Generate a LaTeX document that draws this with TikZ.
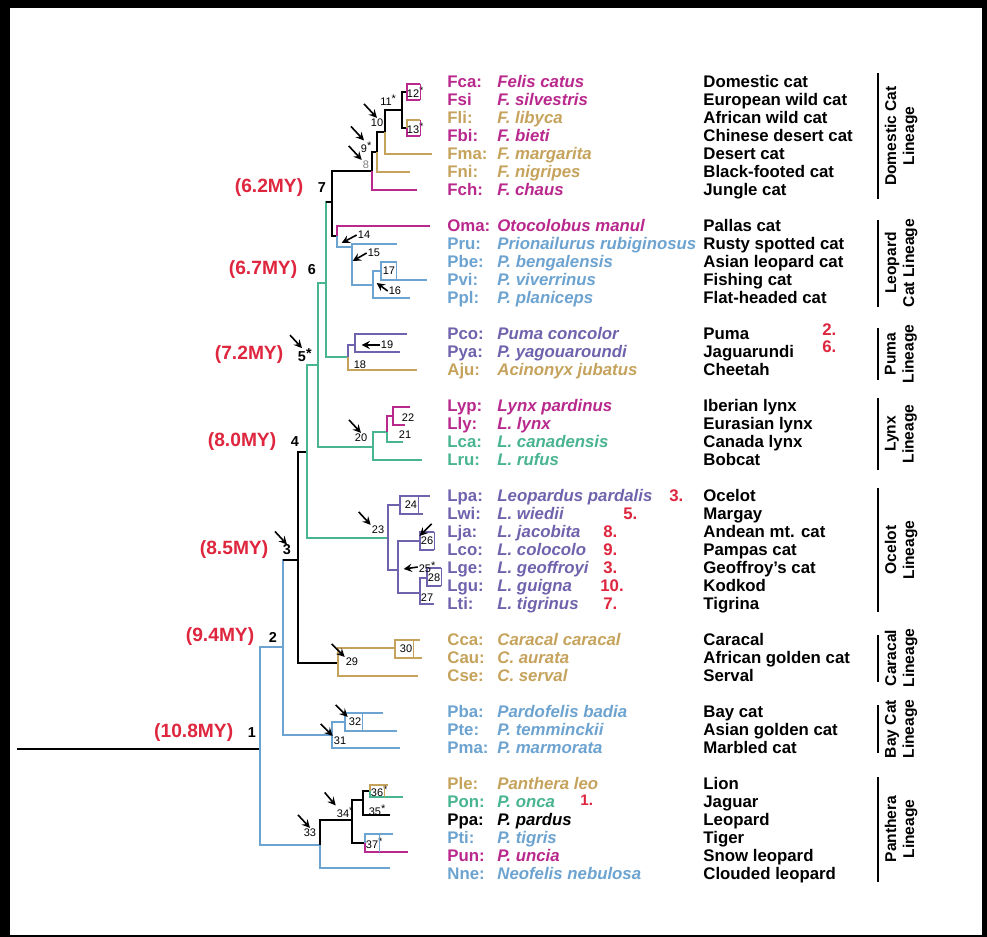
\documentclass[tikz,border=0pt]{standalone}
\usepackage{fontspec}
\setmainfont{Liberation Sans}
\usetikzlibrary{arrows,positioning}
\definecolor{catmagenta}{RGB}{185,40,140}
\definecolor{cattan}{RGB}{198,163,92}
\definecolor{catblue}{RGB}{108,163,208}
\definecolor{catpurple}{RGB}{112,98,172}
\definecolor{catgreen}{RGB}{72,180,145}
\definecolor{agered}{RGB}{222,38,62}

\begin{document}
\begin{tikzpicture}[
        x=0.5pt, y=-0.5pt,
        br/.style={line width=1pt},
        boxedge/.style={line width=0.5pt},
        ab/.style={anchor=west, inner sep=0pt, text height=5pt, text depth=0pt, font=\fontsize{8.4}{9}\selectfont\bfseries},
        sp/.style={ab, font=\fontsize{8.4}{9}\selectfont\bfseries\itshape},
        cn/.style={ab},
        note/.style={ab, text=agered},
        age/.style={inner sep=0pt, text=agered, font=\fontsize{9.6}{10}\selectfont\bfseries},
        knot/.style={inner sep=0pt, font=\fontsize{7.2}{8}\selectfont\bfseries},
        num/.style={inner sep=0.4pt, font=\fontsize{5.5}{6}\selectfont},
        lin/.style={rotate=90, inner sep=0pt, align=center, font=\fontsize{7.8}{9}\selectfont\bfseries},
        bar/.style={line width=0.8pt},
        ptr/.style={->, >=stealth, thick}
    ]
        % frame
        \fill[black] (0,0) rectangle (987,937);
        \fill[white] (10,8) rectangle (982,935);

        % Domestic cat lineage
        \node[ab, catmagenta] (fca-ab) at (447,82) {Fca:}; \node[sp, catmagenta] (fca-sp) at (497,82) {Felis catus}; \node[cn] (fca-cn) at (703,82) {Domestic cat};
        \node[ab, catmagenta] (fsi-ab) at (447,100) {Fsi}; \node[sp, catmagenta] (fsi-sp) at (497,100) {F. silvestris}; \node[cn] (fsi-cn) at (703,100) {European wild cat};
        \node[ab, cattan] (fli-ab) at (447,118) {Fli:}; \node[sp, cattan] (fli-sp) at (497,118) {F. libyca}; \node[cn] (fli-cn) at (703,118) {African wild cat};
        \node[ab, catmagenta] (fbi-ab) at (447,136) {Fbi:}; \node[sp, catmagenta] (fbi-sp) at (497,136) {F. bieti}; \node[cn] (fbi-cn) at (703,136) {Chinese desert cat};
        \node[ab, cattan] (fma-ab) at (447,154) {Fma:}; \node[sp, cattan] (fma-sp) at (497,154) {F. margarita}; \node[cn] (fma-cn) at (703,154) {Desert cat};
        \node[ab, cattan] (fni-ab) at (447,172) {Fni:}; \node[sp, cattan] (fni-sp) at (497,172) {F. nigripes}; \node[cn] (fni-cn) at (703,172) {Black-footed cat};
        \node[ab, catmagenta] (fch-ab) at (447,190) {Fch:}; \node[sp, catmagenta] (fch-sp) at (497,190) {F. chaus}; \node[cn] (fch-cn) at (703,190) {Jungle cat};

        % Leopard cat lineage
        \node[ab, catmagenta] (oma-ab) at (447,226) {Oma:}; \node[sp, catmagenta] (oma-sp) at (497,226) {Otocolobus manul}; \node[cn] (oma-cn) at (703,226) {Pallas cat};
        \node[ab, catblue] (pru-ab) at (447,244) {Pru:}; \node[sp, catblue] (pru-sp) at (497,244) {Prionailurus rubiginosus}; \node[cn] (pru-cn) at (703,244) {Rusty spotted cat};
        \node[ab, catblue] (pbe-ab) at (447,262) {Pbe:}; \node[sp, catblue] (pbe-sp) at (497,262) {P. bengalensis}; \node[cn] (pbe-cn) at (703,262) {Asian leopard cat};
        \node[ab, catblue] (pvi-ab) at (447,280) {Pvi:}; \node[sp, catblue] (pvi-sp) at (497,280) {P. viverrinus}; \node[cn] (pvi-cn) at (703,280) {Fishing cat};
        \node[ab, catblue] (ppl-ab) at (447,298) {Ppl:}; \node[sp, catblue] (ppl-sp) at (497,298) {P. planiceps}; \node[cn] (ppl-cn) at (703,298) {Flat-headed cat};

        % Puma lineage
        \node[ab, catpurple] (pco-ab) at (447,334) {Pco:}; \node[sp, catpurple] (pco-sp) at (497,334) {Puma concolor}; \node[cn] (pco-cn) at (703,334) {Puma};
        \node[ab, catpurple] (pya-ab) at (447,352) {Pya:}; \node[sp, catpurple] (pya-sp) at (497,352) {P. yagouaroundi}; \node[cn] (pya-cn) at (703,352) {Jaguarundi};
        \node[ab, cattan] (aju-ab) at (447,370) {Aju:}; \node[sp, cattan] (aju-sp) at (497,370) {Acinonyx jubatus}; \node[cn] (aju-cn) at (703,370) {Cheetah};

        % Lynx lineage
        \node[ab, catmagenta] (lyp-ab) at (447,406) {Lyp:}; \node[sp, catmagenta] (lyp-sp) at (497,406) {Lynx pardinus}; \node[cn] (lyp-cn) at (703,406) {Iberian lynx};
        \node[ab, catmagenta] (lly-ab) at (447,424) {Lly:}; \node[sp, catmagenta] (lly-sp) at (497,424) {L. lynx}; \node[cn] (lly-cn) at (703,424) {Eurasian lynx};
        \node[ab, catgreen] (lca-ab) at (447,442) {Lca:}; \node[sp, catgreen] (lca-sp) at (497,442) {L. canadensis}; \node[cn] (lca-cn) at (703,442) {Canada lynx};
        \node[ab, catgreen] (lru-ab) at (447,460) {Lru:}; \node[sp, catgreen] (lru-sp) at (497,460) {L. rufus}; \node[cn] (lru-cn) at (703,460) {Bobcat};

        % Ocelot lineage
        \node[ab, catpurple] (lpa-ab) at (447,496) {Lpa:}; \node[sp, catpurple] (lpa-sp) at (497,496) {Leopardus pardalis}; \node[cn] (lpa-cn) at (703,496) {Ocelot};
        \node[ab, catpurple] (lwi-ab) at (447,514) {Lwi:}; \node[sp, catpurple] (lwi-sp) at (497,514) {L. wiedii}; \node[cn] (lwi-cn) at (703,514) {Margay};
        \node[ab, catpurple] (lja-ab) at (447,532) {Lja:}; \node[sp, catpurple] (lja-sp) at (497,532) {L. jacobita}; \node[cn] (lja-cn) at (703,532) {Andean mt. cat};
        \node[ab, catpurple] (lco-ab) at (447,550) {Lco:}; \node[sp, catpurple] (lco-sp) at (497,550) {L. colocolo}; \node[cn] (lco-cn) at (703,550) {Pampas cat};
        \node[ab, catpurple] (lge-ab) at (447,568) {Lge:}; \node[sp, catpurple] (lge-sp) at (497,568) {L. geoffroyi}; \node[cn] (lge-cn) at (703,568) {Geoffroy's cat};
        \node[ab, catpurple] (lgu-ab) at (447,586) {Lgu:}; \node[sp, catpurple] (lgu-sp) at (497,586) {L. guigna}; \node[cn] (lgu-cn) at (703,586) {Kodkod};
        \node[ab, catpurple] (lti-ab) at (447,604) {Lti:}; \node[sp, catpurple] (lti-sp) at (497,604) {L. tigrinus}; \node[cn] (lti-cn) at (703,604) {Tigrina};

        % Caracal lineage
        \node[ab, cattan] (cca-ab) at (447,640) {Cca:}; \node[sp, cattan] (cca-sp) at (497,640) {Caracal caracal}; \node[cn] (cca-cn) at (703,640) {Caracal};
        \node[ab, cattan] (cau-ab) at (447,658) {Cau:}; \node[sp, cattan] (cau-sp) at (497,658) {C. aurata}; \node[cn] (cau-cn) at (703,658) {African golden cat};
        \node[ab, cattan] (cse-ab) at (447,676) {Cse:}; \node[sp, cattan] (cse-sp) at (497,676) {C. serval}; \node[cn] (cse-cn) at (703,676) {Serval};

        % Bay cat lineage
        \node[ab, catblue] (pba-ab) at (447,712) {Pba:}; \node[sp, catblue] (pba-sp) at (497,712) {Pardofelis badia}; \node[cn] (pba-cn) at (703,712) {Bay cat};
        \node[ab, catblue] (pte-ab) at (447,730) {Pte:}; \node[sp, catblue] (pte-sp) at (497,730) {P. temminckii}; \node[cn] (pte-cn) at (703,730) {Asian golden cat};
        \node[ab, catblue] (pma-ab) at (447,748) {Pma:}; \node[sp, catblue] (pma-sp) at (497,748) {P. marmorata}; \node[cn] (pma-cn) at (703,748) {Marbled cat};

        % Panthera lineage
        \node[ab, cattan] (ple-ab) at (447,784) {Ple:}; \node[sp, cattan] (ple-sp) at (497,784) {Panthera leo}; \node[cn] (ple-cn) at (703,784) {Lion};
        \node[ab, catgreen] (pon-ab) at (447,802) {Pon:}; \node[sp, catgreen] (pon-sp) at (497,802) {P. onca}; \node[cn] (pon-cn) at (703,802) {Jaguar};
        \node[ab] (ppa-ab) at (447,820) {Ppa:}; \node[sp] (ppa-sp) at (497,820) {P. pardus}; \node[cn] (ppa-cn) at (703,820) {Leopard};
        \node[ab, catblue] (pti-ab) at (447,838) {Pti:}; \node[sp, catblue] (pti-sp) at (497,838) {P. tigris}; \node[cn] (pti-cn) at (703,838) {Tiger};
        \node[ab, catmagenta] (pun-ab) at (447,856) {Pun:}; \node[sp, catmagenta] (pun-sp) at (497,856) {P. uncia}; \node[cn] (pun-cn) at (703,856) {Snow leopard};
        \node[ab, catblue] (nne-ab) at (447,874) {Nne:}; \node[sp, catblue] (nne-sp) at (497,874) {Neofelis nebulosa}; \node[cn] (nne-cn) at (703,874) {Clouded leopard};

        % red notes
        \node[note] (note-lpa) at (669,496) {3.};
        \node[note] (note-lwi) at (623,514) {5.};
        \node[note] (note-lja) at (603,532) {8.};
        \node[note] (note-lco) at (603,550) {9.};
        \node[note] (note-lge) at (603,568) {3.};
        \node[note] (note-lgu) at (600,586) {10.};
        \node[note] (note-lti) at (603,604) {7.};
        \node[note] (note-pco) at (822,330) {2.};
        \node[note] (note-pya) at (822,347) {6.};
        \node[note, font=\fontsize{7.6}{8}\selectfont\bfseries] (note-pon) at (580,800) {1.};

        % tree junctions
        \coordinate (root) at (17,749);
        \coordinate (n1) at (260,749);
        \coordinate (n2) at (283,647);
        \coordinate (n3) at (298,560);
        \coordinate (n4) at (307,452);
        \coordinate (n5) at (318,365);
        \coordinate (n6) at (326,283);
        \coordinate (n7) at (332,202);
        \coordinate (n8) at (372,171);
        \coordinate (n9) at (377,152);
        \coordinate (n10) at (385,132);
        \coordinate (n11) at (402,110);
        \coordinate (n12) at (407,92);
        \coordinate (n13) at (407,128);
        \coordinate (n14) at (337,236);
        \coordinate (n15) at (352,247);
        \coordinate (n16) at (373,285);
        \coordinate (n17) at (381,271);
        \coordinate (n18) at (348,357);
        \coordinate (n19) at (355,345);
        \coordinate (n20) at (373,447);
        \coordinate (n21) at (387,432);
        \coordinate (n22) at (393,416);
        \coordinate (n23) at (388,538);
        \coordinate (n24) at (400,505);
        \coordinate (n25) at (398,570);
        \coordinate (n26) at (420,541);
        \coordinate (n27) at (420,593);
        \coordinate (n28) at (427,578);
        \coordinate (n29) at (338,663);
        \coordinate (n30) at (395,648);
        \coordinate (n31) at (332,735);
        \coordinate (n32) at (345,722);
        \coordinate (n33) at (320,845);
        \coordinate (n34) at (352,820);
        \coordinate (n35) at (363,800);
        \coordinate (n36) at (370,791);
        \coordinate (n37) at (365,843);

        % branch tips
        \coordinate (fca) at (420,84); \coordinate (fsi) at (420,100); \coordinate (fli) at (420,120); \coordinate (fbi) at (420,136);
        \coordinate (fma) at (432,154); \coordinate (fni) at (410,172); \coordinate (fch) at (417,190);
        \coordinate (oma) at (430,226); \coordinate (pru) at (397,244); \coordinate (pbe) at (397,262); \coordinate (pvi) at (427,280); \coordinate (ppl) at (410,298);
        \coordinate (pco) at (407,334); \coordinate (pya) at (400,352); \coordinate (aju) at (417,370);
        \coordinate (lyp) at (410,407); \coordinate (lly) at (405,425); \coordinate (lca) at (403,442); \coordinate (lru) at (422,460);
        \coordinate (lpa) at (430,496); \coordinate (lwi) at (423,514); \coordinate (lja) at (434,532); \coordinate (lco) at (434,550);
        \coordinate (lge) at (441,568); \coordinate (lgu) at (441,586); \coordinate (lti) at (434,604);
        \coordinate (cca) at (420,640); \coordinate (cau) at (422,658); \coordinate (cse) at (418,676);
        \coordinate (pba) at (383,713); \coordinate (pte) at (397,731); \coordinate (pma) at (400,748);
        \coordinate (ple) at (388,785); \coordinate (pon) at (403,797); \coordinate (ppa) at (390,815);
        \coordinate (pti) at (393,834); \coordinate (pun) at (408,852); \coordinate (nne) at (390,868);

        % branches
        \draw[br] (root) -- (n1);
        \draw[br, catblue] (n1) |- (n2); \draw[br, catblue] (n1) |- (n33);
        \draw[br, catblue] (n2) |- (n3); \draw[br, catblue] (n2) |- (n31); \draw[br] (n2 |- n3) -- (n3);
        \draw[br] (n3) |- (n4); \draw[br] (n3) |- (n29);
        \draw[br, catgreen] (n4) |- (n5); \draw[br, catgreen] (n4) |- (n23);
        \draw[br, catgreen] (n5) |- (n6); \draw[br, catgreen] (n5) |- (n20);
        \draw[br, catgreen] (n6) |- (n7); \draw[br, catgreen] (n6) |- (n18); \draw[br] (n6 |- n7) -- (n7);
        \draw[br] (n7) |- (n8); \draw[br] (n7) |- (n14);
        \draw[br] (n8) |- (n9); \draw[br, catmagenta] (n8) |- (fch);
        \draw[br] (n9) |- (n10); \draw[br, cattan] (n9) |- (fni);
        \draw[br] (n10) |- (n11); \draw[br, cattan] (n10) |- (fma);
        \draw[br] (n11) |- (n12); \draw[br] (n11) |- (n13);
        \draw[br, catmagenta] (n12) |- (fca); \draw[br, catmagenta] (n12) |- (fsi);
        \draw[br, cattan] (n13) |- (fli); \draw[br, catmagenta] (n13) |- (fbi);
        \draw[br, catmagenta] (n14) |- (oma); \draw[br, catblue] (n14) |- (n15);
        \draw[br, catblue] (n15) |- (pru); \draw[br, catblue] (n15) |- (n16);
        \draw[br, catblue] (n16) |- (n17); \draw[br, catblue] (n16) |- (ppl);
        \draw[br, catblue] (n17) |- (pbe); \draw[br, catblue] (n17) |- (pvi);
        \draw[br, catpurple] (n18) |- (n19); \draw[br, cattan] (n18) |- (aju);
        \draw[br, catpurple] (n19) |- (pco); \draw[br, catpurple] (n19) |- (pya);
        \draw[br, catgreen] (n20) |- (n21); \draw[br, catgreen] (n20) |- (lru);
        \draw[br, catmagenta] (n21) |- (n22); \draw[br, catgreen] (n21) |- (lca);
        \draw[br, catmagenta] (n22) |- (lyp); \draw[br, catmagenta] (n22) |- (lly);
        \draw[br, catpurple] (n23) |- (n24); \draw[br, catpurple] (n23) |- (n25);
        \draw[br, catpurple] (n24) |- (lpa); \draw[br, catpurple] (n24) |- (lwi);
        \draw[br, catpurple] (n25) |- (n26); \draw[br, catpurple] (n25) |- (n27);
        \draw[br, catpurple] (n26) |- (lja); \draw[br, catpurple] (n26) |- (lco);
        \draw[br, catpurple] (n27) |- (n28); \draw[br, catpurple] (n27) |- (lti);
        \draw[br, catpurple] (n28) |- (lge); \draw[br, catpurple] (n28) |- (lgu);
        \draw[br, cattan] (n29) |- (n30); \draw[br, cattan] (n29) |- (cse);
        \draw[br, cattan] (n30) |- (cca); \draw[br, cattan] (n30) |- (cau);
        \draw[br, catblue] (n31) |- (n32); \draw[br, catblue] (n31) |- (pma);
        \draw[br, catblue] (n32) |- (pba); \draw[br, catblue] (n32) |- (pte);
        \draw[br] (n33) |- (n34); \draw[br, catblue] (n33) |- (nne);
        \draw[br] (n34) |- (n35); \draw[br] (n34) |- (n37);
        \draw[br] (n35) |- (n36); \draw[br] (n35) |- (ppa);
        \draw[br, cattan] (n36) |- (ple); \draw[br, catgreen] (n36) |- (pon);
        \draw[br, catblue] (n37) |- (pti); \draw[br, catmagenta] (n37) |- (pun);

        % node numbers
        \node[num, text=gray] (l8) at (366,165) {8};
        \node[num] (l9) at (364,147) {9\rlap{\raisebox{1.5pt}{*}}};
        \node[num] (l10) at (377,123) {10};
        \node[num] (l11) at (386,100) {11\rlap{\raisebox{1.5pt}{*}}};
        \node[num] (l12) at (413,92) {12\rlap{\raisebox{1.5pt}{*}}};
        \node[num] (l13) at (413,128) {13\rlap{\raisebox{1.5pt}{*}}};
        \node[num] (l14) at (364,235) {14};
        \node[num] (l15) at (374,253) {15};
        \node[num] (l16) at (395,291) {16};
        \node[num] (l17) at (389,271) {17};
        \node[num] (l18) at (360,365) {18};
        \node[num] (l19) at (387,345) {19};
        \node[num] (l20) at (361,438) {20};
        \node[num] (l21) at (405,435) {21};
        \node[num] (l22) at (408,418) {22};
        \node[num] (l23) at (378,530) {23};
        \node[num] (l24) at (411,505) {24};
        \node[num] (l25) at (425,567) {25\rlap{\raisebox{1.5pt}{*}}};
        \node[num] (l26) at (427,541) {26};
        \node[num] (l27) at (427,598) {27};
        \node[num] (l28) at (434,578) {28};
        \node[num] (l29) at (352,662) {29};
        \node[num] (l30) at (406,649) {30};
        \node[num] (l31) at (340,741) {31};
        \node[num] (l32) at (355,722) {32};
        \node[num] (l33) at (310,833) {33};
        \node[num] (l34) at (343,812) {34\rlap{\raisebox{1.5pt}{*}}};
        \node[num] (l35) at (375,810) {35\rlap{\raisebox{1.5pt}{*}}};
        \node[num] (l36) at (377,791) {36\rlap{\raisebox{1.5pt}{*}}};
        \node[num] (l37) at (372,843) {37\rlap{\raisebox{1.5pt}{*}}};

        % box edges
        \draw[boxedge, catmagenta] (l12.east |- fca) -- (l12.east |- fsi);
        \draw[boxedge, catmagenta] (l13.east |- fli) -- (l13.east |- fbi);
        \draw[boxedge, catblue] (l17.east |- pbe) -- (l17.east |- pvi);
        \draw[boxedge, catpurple] (l24.east |- lpa) -- (l24.east |- lwi);
        \draw[boxedge, catpurple] (l26.east |- lja) -- (l26.east |- lco);
        \draw[boxedge, catpurple] (l28.east |- lge) -- (l28.east |- lgu);
        \draw[boxedge, cattan] (l30.east |- cca) -- (l30.east |- cau);
        \draw[boxedge, catblue] (l32.east |- pba) -- (l32.east |- pte);
        \draw[boxedge, cattan] (l36.east |- ple) -- (l36.east |- pon);
        \draw[boxedge, catblue] (l37.east |- pti) -- (l37.east |- pun);

        % pointers
        \draw[ptr] ([shift={(-13,-14)}]l10.north) -- (l10.north);
        \draw[ptr] ([shift={(-13,-14)}]l9.north) -- (l9.north);
        \draw[ptr] ([shift={(-13,-14)}]l8.north west) -- (l8.north west);
        \draw[ptr] (l14.west) -- ++(-15,8);
        \draw[ptr] (l15.west) -- ++(-14,8);
        \draw[ptr] (l16.west) -- ++(-11,-8);
        \draw[ptr] (l19.west) -- ++(-18,0);
        \draw[ptr] ([shift={(-12,-13)}]l20.north) -- (l20.north);
        \draw[ptr] ([shift={(-12,-13)}]l23.north west) -- (l23.north west);
        \draw[ptr] ([shift={(12,-12)}]l26.north west) -- (l26.north west);
        \draw[ptr] (l25.west) -- ++(-14,2);
        \draw[ptr] ([shift={(-13,-13)}]l29.north west) -- (l29.north west);
        \draw[ptr] ([shift={(-12,-12)}]l32.north west) -- (l32.north west);
        \draw[ptr] ([shift={(-12,-12)}]l31.north west) -- (l31.north west);
        \draw[ptr] ([shift={(-11,-13)}]l34.north west) -- (l34.north west);
        \draw[ptr] ([shift={(-12,-13)}]l33.north) -- (l33.north);

        % ages
        \node[knot] (k1) at (252,733) {1};
        \node[knot] (k2) at (273,637) {2};
        \node[knot] (k3) at (287,550) {3};
        \node[knot] (k4) at (295,442) {4};
        \node[knot] (k5) at (302,355) {5\rlap{\raisebox{1.5pt}{*}}};
        \node[knot] (k6) at (312,270) {6};
        \node[knot] (k7) at (322,188) {7};
        \node[age, left=7pt of k1] (age1) {(10.8MY)};
        \node[age, left=7pt of k2] (age2) {(9.4MY)};
        \node[age, left=7pt of k3] (age3) {(8.5MY)};
        \node[age, left=7pt of k4] (age4) {(8.0MY)};
        \node[age, left=7pt of k5] (age5) {(7.2MY)};
        \node[age, left=5pt of k6] (age6) {(6.7MY)};
        \node[age, left=7pt of k7] (age7) {(6.2MY)};
        \draw[ptr] ([shift={(-12,-13)}]k3.north) -- (k3.north);
        \draw[ptr] ([shift={(-12,-13)}]k5.north) -- (k5.north);

        % lineages
        \draw[bar] (878,73) -- (878,199);
        \node[lin] (dom-lin) at (901,136) {Domestic Cat\\Lineage};
        \draw[bar] (878,220) -- (878,307);
        \node[lin] (leo-lin) at (901,263) {Leopard\\Cat Lineage};
        \draw[bar] (878,328) -- (878,380);
        \node[lin] (puma-lin) at (901,354) {Puma\\Lineage};
        \draw[bar] (878,398) -- (878,470);
        \node[lin] (lynx-lin) at (901,434) {Lynx\\Lineage};
        \draw[bar] (878,488) -- (878,612);
        \node[lin] (oce-lin) at (901,550) {Ocelot\\Lineage};
        \draw[bar] (878,635) -- (878,682);
        \node[lin] (car-lin) at (901,658) {Caracal\\Lineage};
        \draw[bar] (878,705) -- (878,753);
        \node[lin] (bay-lin) at (901,729) {Bay Cat\\Lineage};
        \draw[bar] (878,777) -- (878,882);
        \node[lin] (pan-lin) at (901,829) {Panthera\\Lineage};
    \end{tikzpicture}
\end{document}
